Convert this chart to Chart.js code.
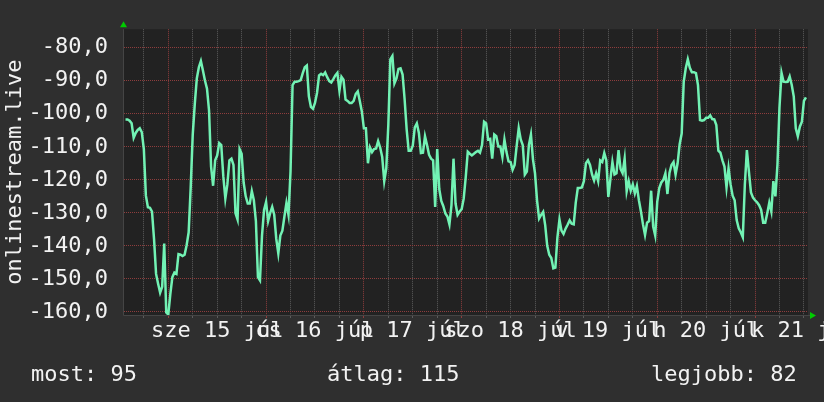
<!DOCTYPE html>
<html>
<head>
<meta charset="utf-8">
<script src="https://cdn.jsdelivr.net/npm/chart.js@4/dist/chart.umd.min.js"></script>
<style>
  html, body { margin: 0; padding: 0; background: #2f2f2f; }
  #wrap { width: 824px; height: 402px; }
</style>
</head>
<body>
<div id="wrap"><canvas id="myChart" width="824" height="402"></canvas></div>
<script>
// half-hour samples, hour 0 = sze 15 júl 00:00
const firstHour = -10.5;
const stepHours = 0.5;
const values = [
  -101.7, -101.7, -102.1, -102.9, -107.3, -105.8, -104.9, -104.4, -105.6, -110.7,
  -124.8, -128.3, -128.5, -129.6, -137.9, -148.5, -151.5, -154.2, -152.4, -139.3,
  -160.2, -160.8, -154.6, -149.5, -148.1, -148.5, -142.5, -142.7, -143.1, -142.7,
  -139.8, -135.9, -122.3, -106.3, -97.1, -89.3, -85.9, -84.0, -86.9, -89.9,
  -92.4, -99.0, -116.0, -121.8, -114.1, -112.6, -108.9, -109.5, -118.9, -125.7,
  -121.4, -114.1, -113.6, -115.5, -130.1, -132.0, -110.7, -112.1, -120.9, -125.0,
  -127.2, -127.2, -123.4, -126.2, -132.5, -149.5, -150.5, -136.9, -129.1, -126.7,
  -132.5, -130.1, -128.2, -130.6, -137.9, -142.3, -136.9, -135.4, -131.1, -127.0,
  -130.6, -117.5, -91.3, -90.3, -90.3, -90.1, -89.8, -87.7, -85.9, -85.4,
  -94.7, -97.9, -98.5, -96.7, -93.7, -88.4, -87.9, -88.3, -87.5, -88.9,
  -90.1, -90.5, -89.5, -88.4, -87.6, -93.0, -88.8, -89.7, -95.7, -96.1,
  -96.7, -96.7, -96.1, -94.0, -93.2, -96.1, -99.3, -104.4, -104.4, -115.0,
  -110.2, -111.6, -110.7, -110.5, -108.3, -110.2, -113.1, -120.4, -116.5, -103.4,
  -83.5, -82.5, -90.8, -89.3, -86.4, -86.2, -88.1, -95.6, -104.7, -111.2,
  -111.2, -109.7, -104.1, -102.9, -105.8, -111.9, -111.8, -106.8, -109.5, -112.4,
  -113.6, -114.1, -128.2, -110.7, -122.8, -126.4, -128.0, -130.2, -131.1, -133.5,
  -127.7, -113.6, -127.2, -130.6, -129.6, -128.9, -125.7, -119.2, -111.5, -112.1,
  -112.6, -112.1, -111.6, -111.2, -111.8, -109.5, -102.4, -102.9, -107.8, -107.6,
  -113.6, -106.3, -106.8, -109.9, -109.9, -113.1, -107.8, -111.6, -114.4, -114.6,
  -117.0, -115.5, -109.7, -104.4, -107.8, -109.5, -118.4, -117.5, -109.4, -106.3,
  -113.8, -118.0, -126.2, -131.7, -130.6, -129.7, -133.7, -140.0, -142.7, -143.7,
  -146.8, -146.6, -137.4, -132.0, -135.4, -136.4, -134.8, -133.6, -132.3, -133.3,
  -133.5, -126.9, -122.5, -122.5, -122.3, -120.4, -115.0, -114.1, -115.5, -118.4,
  -120.2, -118.0, -120.4, -114.1, -114.6, -111.9, -114.1, -125.2, -119.9, -114.6,
  -118.4, -118.0, -111.0, -116.7, -118.0, -113.6, -123.5, -120.4, -123.3, -121.4,
  -124.1, -121.9, -126.2, -129.6, -133.5, -136.7, -133.0, -132.5, -123.3, -134.2,
  -136.9, -126.7, -122.5, -120.8, -120.0, -118.0, -124.3, -117.9, -115.5, -114.6,
  -118.4, -115.0, -109.2, -106.0, -90.3, -86.2, -83.5, -86.1, -87.4, -87.4,
  -87.7, -91.3, -101.9, -102.1, -101.9, -101.2, -101.2, -100.5, -101.6, -101.7,
  -103.4, -111.2, -111.8, -114.1, -116.0, -122.3, -116.5, -121.4, -124.8, -126.2,
  -132.2, -134.7, -135.9, -137.4, -121.4, -111.0, -117.5, -123.8, -125.4, -126.2,
  -126.8, -127.7, -129.1, -133.0, -133.0, -130.1, -126.9, -129.6, -120.4, -125.0,
  -115.5, -98.1, -87.6, -90.3, -90.4, -90.3, -88.7, -91.2, -94.7, -104.4,
  -106.8, -103.9, -102.4, -96.1, -95.0
];
const dayLabels = ['sze 15 júl', 'cs 16 júl', 'p 17 júl', 'szo 18 júl', 'v 19 júl', 'h 20 júl', 'k 21 júl'];
const yTickLabels = [-160, -150, -140, -130, -120, -110, -100, -90, -80];
const legendItems = ['most: 95', 'átlag: 115', 'legjobb: 82'];
const yAxisTitle = 'onlinestream.live';

const FONT = 'DejaVu Sans Mono';
const points = values.map((v, i) => ({ x: firstHour + i * stepHours, y: v }));

const minorGrid = '#5c5c5c';
const majorGrid = '#8e3d3d';

const frame = {
  id: 'frame',
  beforeDraw(chart) {
    const { ctx, chartArea: a } = chart;
    ctx.save();
    ctx.fillStyle = '#2f2f2f';
    ctx.fillRect(0, 0, chart.width, chart.height);
    ctx.fillStyle = '#222222';
    ctx.fillRect(a.left, a.top, a.right - a.left, a.bottom - a.top);
    ctx.restore();
  },
  afterDraw(chart) {
    const { ctx, chartArea: a } = chart;
    ctx.save();
    ctx.strokeStyle = '#454545';
    ctx.lineWidth = 1;
    ctx.beginPath();
    ctx.moveTo(a.left - 0.5, a.top);
    ctx.lineTo(a.left - 0.5, a.bottom + 0.5);
    ctx.lineTo(a.right + 2, a.bottom + 0.5);
    ctx.stroke();
    // arrows
    ctx.fillStyle = '#00cc00';
    ctx.beginPath();
    ctx.moveTo(a.left - 4, a.top - 2);
    ctx.lineTo(a.left + 3, a.top - 2);
    ctx.lineTo(a.left - 0.5, a.top - 8);
    ctx.fill();
    ctx.beginPath();
    ctx.moveTo(a.right + 2, a.bottom - 3);
    ctx.lineTo(a.right + 2, a.bottom + 4);
    ctx.lineTo(a.right + 8, a.bottom + 0.5);
    ctx.fill();
    // legend
    ctx.fillStyle = '#f2f2f2';
    ctx.font = '22px "' + FONT + '"';
    ctx.textBaseline = 'alphabetic';
    ctx.textAlign = 'left';
    const xs = [31, 327, 651];
    legendItems.forEach((t, i) => ctx.fillText(t, xs[i], 381));
    ctx.restore();
  }
};

new Chart(document.getElementById('myChart'), {
  type: 'line',
  data: {
    datasets: [{
      data: points,
      borderColor: '#72f2b4',
      borderWidth: 2.5,
      pointRadius: 0,
      tension: 0,
      fill: false
    }]
  },
  options: {
    responsive: false,
    animation: false,
    events: [],
    layout: { padding: { top: 14, right: 16, bottom: 47, left: 0 } },
    plugins: { legend: { display: false }, tooltip: { enabled: false } },
    scales: {
      x: {
        type: 'linear',
        min: -10.87,
        max: 157,
        afterFit(s) { s.height = 40; s.paddingLeft = 0; s.paddingRight = 0; },
        afterBuildTicks(s) {
          const t = [];
          for (let h = -6; h <= 156; h += 6) t.push({ value: h });
          s.ticks = t;
        },
        grid: {
          drawTicks: true,
          tickLength: 3,
          color: c => (c.tick && c.tick.value % 24 === 0) ? majorGrid : minorGrid,
          tickColor: c => (c.tick && c.tick.value % 24 === 0) ? majorGrid : minorGrid,
          lineWidth: 1
        },
        border: { display: false, dash: [1, 1] },
        ticks: {
          autoSkip: false,
          maxRotation: 0,
          padding: 0,
          color: '#f2f2f2',
          font: { family: FONT, size: 22 },
          callback: v => {
            const d = (v - 12) / 24;
            return Number.isInteger(d) ? dayLabels[d] : '';
          }
        }
      },
      y: {
        min: -160.95,
        max: -74.38,
        afterFit(s) { s.width = 124; },
        afterBuildTicks(s) {
          const t = [];
          for (let v = -160; v <= -76; v += 2) t.push({ value: v });
          s.ticks = t;
        },
        grid: {
          drawTicks: false,
          color: c => (c.tick && c.tick.value % 10 === 0) ? majorGrid : minorGrid,
          lineWidth: 1
        },
        border: { display: false, dash: [1, 1] },
        title: {
          display: true,
          text: yAxisTitle,
          color: '#f2f2f2',
          font: { family: FONT, size: 22 },
          padding: { top: 2, bottom: 0 }
        },
        ticks: {
          padding: 16,
          color: '#f2f2f2',
          font: { family: FONT, size: 22 },
          callback: v => yTickLabels.includes(v) ? v.toFixed(1).replace('.', ',') : ''
        }
      }
    }
  },
  plugins: [frame]
});
</script>
</body>
</html>
